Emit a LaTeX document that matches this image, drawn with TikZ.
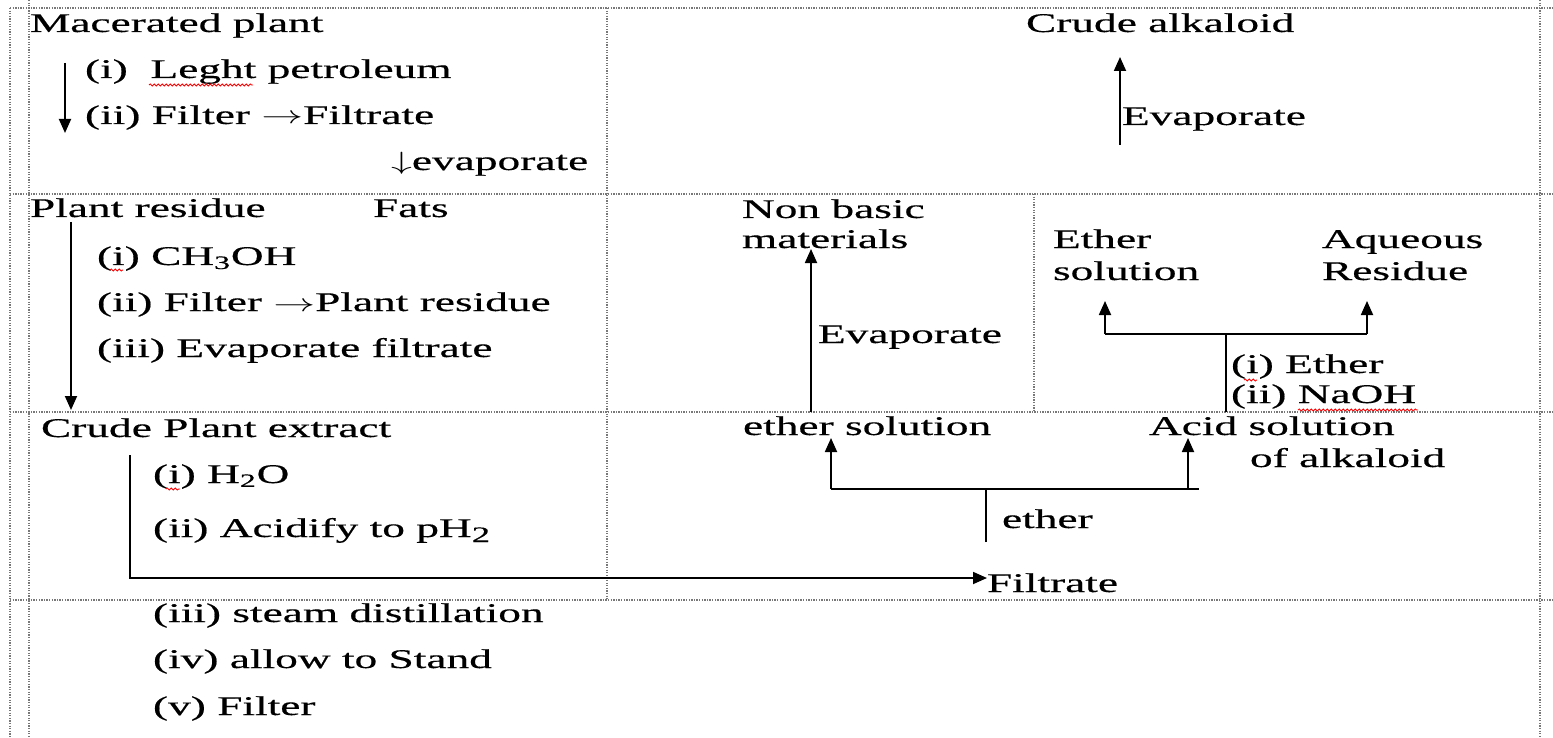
\documentclass[tikz,border=0pt]{standalone}
\usepackage{fontspec}
\setmainfont{Liberation Serif}
\newfontfamily\heavy{Liberation Serif}[FakeBold=0.35]
\usepackage{graphicx}
\usetikzlibrary{arrows.meta,decorations.pathmorphing}
\newcommand\sx[1]{\scalebox{1.68}[1]{#1}}
\definecolor{gridc}{RGB}{120,120,120}
\tikzset{
  lbl/.style={anchor=base west, inner sep=0pt, outer sep=0pt, font=\fontsize{27}{32}\heavy},
  gridln/.style={draw=gridc, line width=1.3pt, dash pattern=on 1.3pt off 1.3pt},
  conn/.style={line width=1.8pt},
  arr/.style={line width=1.8pt, -{Triangle[length=14pt,width=12pt]}},
  spell/.style={draw=red, line width=0.8pt, decorate, decoration={snake, amplitude=1.1pt, segment length=4pt}},
}
\begin{document}
\begin{tikzpicture}[x=1pt,y=1pt]
\fill[white] (0,0) rectangle (1553,-738);
\useasboundingbox (0,0) rectangle (1553,-738);
% grid
\draw[gridln] (10,-8) -- (1553,-8);
\draw[gridln] (10,-194) -- (1553,-194);
\draw[gridln] (10,-412) -- (1553,-412);
\draw[gridln] (10,-600) -- (1553,-600);
\draw[gridln] (10,-8) -- (10,-738);
\draw[gridln] (29,0) -- (29,-738);
\draw[gridln] (607,-8) -- (607,-600);
\draw[gridln] (1034,-194) -- (1034,-412);
\draw[gridln] (1540,0) -- (1540,-738);
% top-left cell
\node[lbl] (mac) at (30,-32) {\sx{Macerated plant}};
\node[lbl] (lp) at (85,-78) {\sx{(i)\ \ Leght petroleum}};
\node[lbl] (f1) at (85,-124) {\sx{(ii) Filter $\rightarrow$Filtrate}};
\node[lbl] (ev1) at (391,-170) {\sx{$\downarrow$evaporate}};
\coordinate (a1s) at (65,-63); \coordinate (a1e) at (65,-133);
\draw[arr] (a1s) -- (a1e);
% top-right cell
\node[lbl] (ca) at (1026,-32) {\sx{Crude alkaloid}};
\node[lbl] (ev2) at (1122,-125) {\sx{Evaporate}};
\coordinate (a2s) at (1120,-145); \coordinate (a2e) at (1120,-57);
\draw[arr] (a2s) -- (a2e);
% middle-left cell
\node[lbl] (pr) at (30,-217) {\sx{Plant residue}};
\node[lbl] (fats) at (373,-217) {\sx{Fats}};
\node[lbl] (ch) at (97,-265) {\sx{(i) CH\textsubscript{3}OH}};
\node[lbl] (f2) at (97,-311) {\sx{(ii) Filter $\rightarrow$Plant residue}};
\node[lbl] (ef) at (97,-357) {\sx{(iii) Evaporate filtrate}};
\coordinate (a3s) at (71,-222); \coordinate (a3e) at (71,-410);
\draw[arr] (a3s) -- (a3e);
% middle-middle cell
\node[lbl] (nb1) at (742,-218) {\sx{Non basic}};
\node[lbl] (nb2) at (742,-248) {\sx{materials}};
\node[lbl] (ev3) at (818,-343) {\sx{Evaporate}};
\coordinate (a4s) at (811,-412); \coordinate (a4e) at (811,-249);
\draw[arr] (a4s) -- (a4e);
% middle-right cell
\node[lbl] (es1) at (1053,-248) {\sx{Ether}};
\node[lbl] (es2) at (1053,-280) {\sx{solution}};
\node[lbl] (aq1) at (1322,-248) {\sx{Aqueous}};
\node[lbl] (aq2) at (1322,-280) {\sx{Residue}};
\node[lbl] (ie) at (1231,-373) {\sx{(i) Ether}};
\node[lbl] (naoh) at (1231,-403) {\sx{(ii) NaOH}};
\coordinate (b1s) at (1226,-412); \coordinate (b1j) at (1226,-334);
\coordinate (b1l) at (1105,-334); \coordinate (b1r) at (1367,-334);
\coordinate (b1lt) at (1105,-301); \coordinate (b1rt) at (1367,-301);
\draw[conn] (b1s) -- (b1j);
\draw[conn] (b1l) -- (b1r);
\draw[arr] (b1l) -- (b1lt);
\draw[arr] (b1r) -- (b1rt);
% bottom-left cell
\node[lbl] (cpe) at (41,-437) {\sx{Crude Plant extract}};
\node[lbl] (h2o) at (153,-483) {\sx{(i) H\textsubscript{2}O}};
\node[lbl] (acid) at (153,-537) {\sx{(ii) Acidify to pH\raisebox{-5pt}{\fontsize{22}{22}\heavy 2}}};
\node[lbl] (filt) at (987,-592) {\sx{Filtrate}};
\coordinate (a6s) at (130,-455); \coordinate (a6c) at (130,-578);
\draw[arr] (a6s) -- (a6c) -- (filt.west |- a6c);
% bottom-right cell
\node[lbl] (eso) at (743,-435) {\sx{ether solution}};
\node[lbl] (as1) at (1149,-435) {\sx{Acid solution}};
\node[lbl] (as2) at (1250,-467) {\sx{of alkaloid}};
\node[lbl] (eth) at (1002,-528) {\sx{ether}};
\coordinate (b2s) at (986,-542); \coordinate (b2j) at (986,-489);
\coordinate (b2l) at (831,-489); \coordinate (b2r) at (1188,-489);
\coordinate (b2re) at (1199,-489);
\coordinate (b2lt) at (831,-438); \coordinate (b2rt) at (1188,-438);
\draw[conn] (b2s) -- (b2j);
\draw[conn] (b2l) -- (b2re);
\draw[arr] (b2l) -- (b2lt);
\draw[arr] (b2r) -- (b2rt);
% bottom row
\node[lbl] (sd) at (153,-622) {\sx{(iii) steam distillation}};
\node[lbl] (ats) at (153,-668) {\sx{(iv) allow to Stand}};
\node[lbl] (vf) at (153,-715) {\sx{(v) Filter}};
% spelling marks
\path[spell] (149,-85) -- (253,-85);
\path[spell] (110,-270) -- (123,-270);
\path[spell] (166,-489) -- (180,-489);
\path[spell] (1244,-380) -- (1257,-380);
\path[spell] (1298,-410) -- (1418,-410);
\end{tikzpicture}
\end{document}
